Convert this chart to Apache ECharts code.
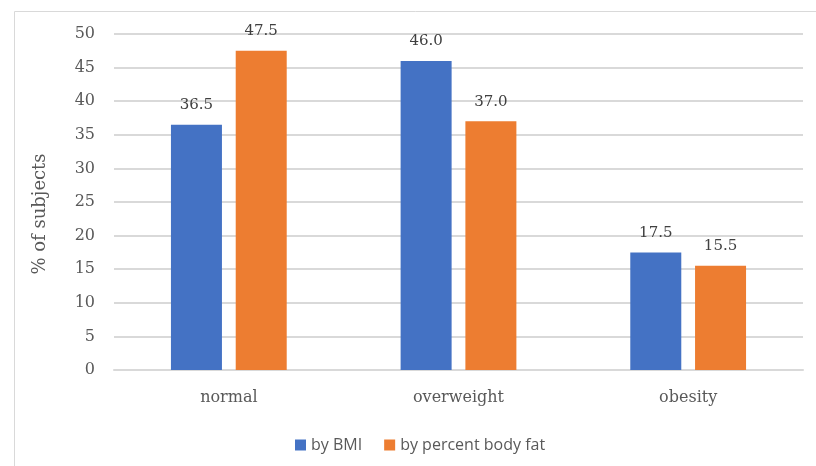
<!DOCTYPE html>
<html>
<head>
<meta charset="utf-8">
<script src="https://cdn.jsdelivr.net/npm/echarts@6/dist/echarts.min.js"></script>
<style>
  html, body { margin: 0; padding: 0; background: #fff; }
  #chart { width: 816px; height: 466px; }
</style>
</head>
<body>
<div id="chart"></div>
<script>
// Body composition classes
const categories = ['normal', 'overweight', 'obesity'];
const byBMI = [36.5, 46.0, 17.5];
const byBodyFat = [47.5, 37.0, 15.5];
const seriesNames = ['by BMI', 'by percent body fat'];

const serif = '"DejaVu Serif", "Liberation Serif", serif';
const sans = '"Open Sans", "Liberation Sans", sans-serif';

const chart = echarts.init(document.getElementById('chart'));

const labelStyle = {
  show: true,
  position: 'top',
  distance: 12,
  fontFamily: serif,
  fontSize: 15,
  color: '#404040',
  formatter: p => p.value.toFixed(1)
};

chart.setOption({
  animation: false,
  graphic: [{
    type: 'rect',
    shape: { x: 14.5, y: 11.5, width: 900, height: 600 },
    style: { fill: 'none', stroke: '#d9d9d9', lineWidth: 1 },
    silent: true
  }],
  legend: {
    data: seriesNames,
    top: 432,
    left: 290,
    itemWidth: 11,
    itemHeight: 11,
    itemGap: 22,
    icon: 'rect',
    textStyle: { fontFamily: sans, fontSize: 16, color: '#595959' }
  },
  grid: { left: 114, right: 13, top: 34, bottom: 96 },
  xAxis: {
    type: 'category',
    data: categories,
    axisTick: { show: false },
    axisLine: { lineStyle: { color: '#d9d9d9', width: 2 } },
    axisLabel: { fontFamily: serif, fontSize: 16, color: '#595959', margin: 20 }
  },
  yAxis: {
    type: 'value',
    min: 0,
    max: 50,
    interval: 5,
    name: '% of subjects',
    nameLocation: 'middle',
    nameGap: 65,
    nameTextStyle: { fontFamily: serif, fontSize: 18, color: '#595959', padding: [0, 24, 0, 0] },
    axisLine: { show: false },
    axisTick: { show: false },
    splitLine: { lineStyle: { color: '#d9d9d9', width: 2 } },
    axisLabel: { fontFamily: serif, fontSize: 16, color: '#595959', margin: 19 }
  },
  series: [
    {
      name: seriesNames[0],
      type: 'bar',
      data: byBMI,
      barWidth: 51,
      barGap: '27%',
      itemStyle: { color: '#4472c4' },
      label: labelStyle
    },
    {
      name: seriesNames[1],
      type: 'bar',
      data: byBodyFat,
      barWidth: 51,
      barGap: '27%',
      itemStyle: { color: '#ed7d31' },
      label: labelStyle
    }
  ]
});
</script>
</body>
</html>
